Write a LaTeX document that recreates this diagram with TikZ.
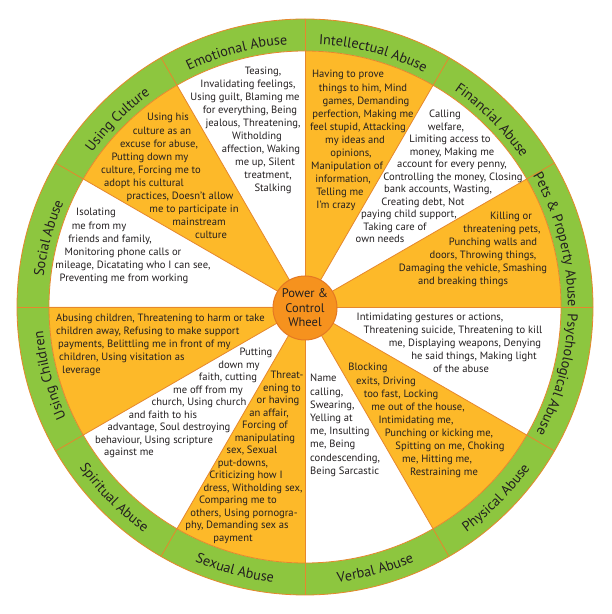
\documentclass[tikz,border=0pt]{standalone}
\usepackage{fontspec}
\setmainfont{PT Sans}
\usetikzlibrary{decorations.text}
\definecolor{ringgreen}{RGB}{141,198,63}
\definecolor{wedgeorange}{RGB}{253,185,41}
\definecolor{lineorange}{RGB}{230,135,45}
\definecolor{hubfill}{RGB}{246,146,30}
\definecolor{hubline}{RGB}{228,120,35}
\definecolor{inktext}{RGB}{35,31,32}
\newcommand\ringfont{\fontsize{14.2}{14}\selectfont\color{inktext}}
\tikzset{
  body/.style={inner sep=0pt, anchor=base, font=\fontsize{10.6}{12}\selectfont, text=inktext},
  divider/.style={draw=lineorange, line width=0.8pt},
}
\newcommand\textblock[5][base]{%
  \foreach \linex/\linetxt [count=\i from 0] in {#5}{%
    \node[body, anchor=#1] (#2-\i) at (\linex, {#3+#4*\i}) {\linetxt};
  }%
}
\newcommand\cwlabel[2]{%
  \path[decorate, decoration={text along path, text align={center}, text={|\ringfont|#2}}]
    ({#1+28}:263) arc[start angle={#1+28}, end angle={#1-28}, radius=263];}
\newcommand\ccwlabel[2]{%
  \path[decorate, decoration={text along path, text align={center}, text={|\ringfont|#2}}]
    ({#1-28}:277) arc[start angle={#1-28}, end angle={#1+28}, radius=277];}
\begin{document}
\begin{tikzpicture}[x=1pt,y=1pt]
\useasboundingbox (0,0) rectangle (612,614);
\fill[white] (0,0) rectangle (612,614);
\begin{scope}[shift={(305,307)}]
  \fill[ringgreen] (0,0) circle[radius=288];
  \fill[white] (0,0) circle[radius=256];
  \foreach \a in {0,60,...,300}
    \fill[wedgeorange] (0,0) -- (\a:256) arc[start angle=\a, end angle=\a+30, radius=256] -- cycle;
  \foreach \a in {0,30,...,330}
    \draw[divider] (0,0) -- (\a:288);
  \draw[divider] (0,0) circle[radius=256];
  \draw[divider] (0,0) circle[radius=288];
  \node[circle, fill=hubfill, draw=hubline, line width=1pt, minimum size=64pt, inner sep=0pt,
        align=center, font=\fontsize{12.5}{14.5}\selectfont, text=inktext] (hub) at (0,-1) {Power \&\\Control\\Wheel};
  \cwlabel{105}{Emotional Abuse}
  \cwlabel{75}{Intellectual Abuse}
  \cwlabel{45}{Financial Abuse}
  \cwlabel{15}{Pets {\&} Property Abuse}
  \cwlabel{-15}{Psychological Abuse}
  \ccwlabel{-45}{Physical Abuse}
  \ccwlabel{-75}{Verbal Abuse}
  \ccwlabel{-105}{Sexual Abuse}
  \ccwlabel{-135}{Spiritual Abuse}
  \cwlabel{195}{Using Children}
  \cwlabel{165}{Social Abuse}
  \cwlabel{135}{Using Culture}
\end{scope}
\begin{scope}[yshift=614pt, y=-1pt]
\textblock{emo}{75}{13}{263/{Teasing,}, 248/{Invalidating feelings,}, 245/{Using guilt, Blaming me}, 250/{for everything, Being}, 253/{jealous, Threatening,}, 257/{Witholding}, 261/{affection, Waking}, 265/{me up, Silent}, 268/{treatment,}, 273/{Stalking}}
\textblock{cul}{121}{13.1}{168/{Using his}, 162/{culture as an}, 159/{excuse for abuse,}, 150/{Putting down my}, 151/{culture, Forcing me to}, 144/{adopt his cultural}, 180/{practices, Doesn't allow}, 194/{me to participate in}, 199/{mainstream}, 211/{culture}}
\textblock{soc}{216}{13.2}{96/{Isolating}, 99/{me from my}, 110/{friends and family,}, 123/{Monitoring phone calls or}, 133/{mileage, Dicatating who I can see,}, 124/{Preventing me from working}}
\textblock{int}{78}{13.1}{348/{Having to prove}, 363/{things to him, Mind}, 366/{games, Demanding}, 363/{perfection, Making me}, 358/{feel stupid, Attacking}, 355/{my ideas and}, 351/{opinions,}, 347/{Manipulation of}, 343/{information,}, 340/{Telling me}, 336/{I'm crazy}}
\textblock{fin}{118}{12.5}{445/{Calling}, 446/{welfare,}, 450/{Limiting access to}, 452/{money, Making me}, 452/{account for every penny,}, 453/{Controlling the money, Closing}, 438/{bank accounts, Wasting,}, 423/{Creating debt, Not}, 409/{paying child support,}, 395/{Taking care of}, 380/{own needs}}
\textblock{pet}{220}{13}{511/{Killing or}, 502/{threatening pets,}, 493/{Punching walls and}, 483/{doors, Throwing things,}, 473/{Damaging the vehicle, Smashing}, 463/{and breaking things}}
\textblock[base west]{chi}{322}{13}{56/{Abusing children, Threatening to harm or take}, 56/{children away, Refusing to make support}, 58/{payments, Belittling me in front of my}, 59/{children, Using visitation as}, 62/{leverage}}
\textblock{spi}{356}{12.5}{256/{Putting}, 239/{down my}, 228/{faith, cutting}, 208/{me off from my}, 199/{church, Using church}, 163/{and faith to his}, 169/{advantage, Soul destroying}, 154/{behaviour, Using scripture}, 129/{against me}}
\textblock{sex}{379}{12.5}{287/{Threat-}, 282/{ening to}, 278/{or having}, 269/{an affair,}, 265/{Forcing of}, 265/{manipulating}, 252/{sex, Sexual}, 243/{put-downs,}, 246/{Criticizing how I}, 253/{dress, Witholding sex,}, 238/{Comparing me to}, 244/{others, Using pornogra-}, 237/{phy, Demanding sex as}, 233/{payment}}
\textblock{psy}{321}{13}{430/{Intimidating gestures or actions,}, 453/{Threatening suicide, Threatening to kill}, 465/{me, Displaying weapons, Denying}, 474/{he said things, Making light}, 461/{of the abuse}}
\textblock{phy}{371}{13.1}{368/{Blocking}, 386/{exits, Driving}, 401/{too fast, Locking}, 418/{me out of the house,}, 416/{Intimidating me,}, 439/{Punching or kicking me,}, 450/{Spitting on me, Choking}, 437/{me, Hitting me,}, 444/{Restraining me}}
\textblock[base west]{ver}{382}{13.2}{310/{Name}, 310/{calling,}, 310/{Swearing,}, 310/{Yelling at}, 310/{me, Insulting}, 310/{me, Being}, 310/{condescending,}, 310/{Being Sarcastic}}
\end{scope}
\end{tikzpicture}
\end{document}
